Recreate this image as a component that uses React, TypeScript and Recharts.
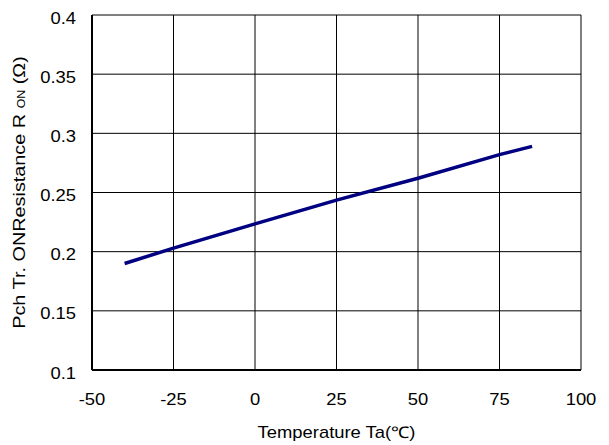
import React from "react";
import { LineChart, Line, XAxis, YAxis, CartesianGrid } from "recharts";

const temperatures = [-40, -25, 0, 25, 50, 75, 85];
const resistance = [0.19, 0.203, 0.2235, 0.2435, 0.262, 0.282, 0.289];
const xTicks = [-50, -25, 0, 25, 50, 75, 100];
const yTicks = [0.1, 0.15, 0.2, 0.25, 0.3, 0.35, 0.4];
const xTitle = "Temperature Ta(℃)";
const yTitleMain = "Pch Tr. ONResistance R ";
const yTitleSub = "ON";
const yTitleEnd = " (Ω)";

const data = temperatures.map((t, i) => ({ t, r: resistance[i] }));

const FONT = "'Liberation Sans', Arial, sans-serif";
const SX = 1.15;

const XTick = (props: any) => {
  const { x, y, payload } = props;
  return (
    <g transform={`translate(${x},${y + 35}) scale(${SX},1)`}>
      <text textAnchor="middle" fontSize={16} fill="#000" fontFamily={FONT}>
        {payload.value}
      </text>
    </g>
  );
};

const YTick = (props: any) => {
  const { x, y, payload } = props;
  return (
    <g transform={`translate(${x - 16},${y + 8.5}) scale(${SX},1)`}>
      <text textAnchor="end" fontSize={16} fill="#000" fontFamily={FONT}>
        {payload.value}
      </text>
    </g>
  );
};

const XLabel = (props: any) => {
  const vb = props.viewBox || {};
  const cx = vb.x + vb.width / 2;
  return (
    <g transform={`translate(${cx},${vb.y + 68}) scale(${SX},1)`}>
      <text textAnchor="middle" fontSize={16} fill="#000" fontFamily={FONT}>
        {xTitle}
      </text>
    </g>
  );
};

const YLabel = (props: any) => {
  const vb = props.viewBox || {};
  const cy = vb.y + vb.height / 2;
  return (
    <g transform={`translate(25,${cy}) rotate(-90) scale(1.24,1)`}>
      <text textAnchor="middle" fontSize={16} fill="#000" fontFamily={FONT}>
        {yTitleMain}
        <tspan fontSize={10}>{yTitleSub}</tspan>
        {yTitleEnd}
      </text>
    </g>
  );
};

export default function App() {
  return (
    <div style={{ position: "absolute", left: 0, top: 0, background: "#fff" }}>
      <LineChart
        width={609}
        height={445}
        data={data}
        margin={{ top: 15, right: 28, bottom: 0, left: 0 }}
      >
        <CartesianGrid stroke="#000" strokeWidth={1} />
        <XAxis
          dataKey="t"
          type="number"
          domain={[-50, 100]}
          ticks={xTicks}
          interval={0}
          height={75}
          tickSize={0}
          tickMargin={0}
          tickLine={false}
          axisLine={{ stroke: "#000", strokeWidth: 2 }}
          tick={<XTick />}
          label={<XLabel />}
        />
        <YAxis
          type="number"
          domain={[0.1, 0.4]}
          ticks={yTicks}
          interval={0}
          width={92}
          tickSize={0}
          tickMargin={0}
          tickLine={false}
          axisLine={{ stroke: "#000", strokeWidth: 2 }}
          tick={<YTick />}
          label={<YLabel />}
          allowDataOverflow
        />
        <Line
          type="linear"
          dataKey="r"
          stroke="#000080"
          strokeWidth={3.5}
          dot={false}
          isAnimationActive={false}
        />
      </LineChart>
    </div>
  );
}
